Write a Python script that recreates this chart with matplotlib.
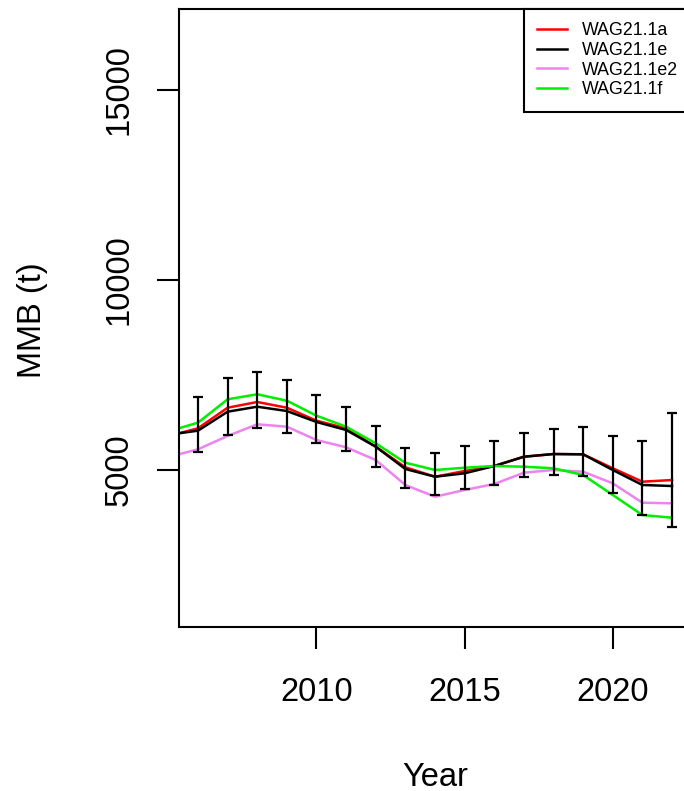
import numpy as np
import matplotlib
matplotlib.use("Agg")
from matplotlib import pyplot as plt

plt.rcParams['font.family'] = ['Liberation Sans', 'DejaVu Sans']

years = np.arange(2005, 2023)

# MMB estimates per model run (t)
wag21_1a = [5880, 6086, 6628, 6779, 6628, 6286, 6086, 5601, 5058, 4810,
            4960, 5092, 5337, 5408, 5400, 5032, 4679, 4723]
wag21_1e = [5917, 6023, 6523, 6655, 6541, 6252, 6041, 5601, 5013, 4810,
            4900, 5092, 5337, 5408, 5400, 4987, 4592, 4565]
wag21_1e2 = [5330, 5532, 5883, 6191, 6128, 5777, 5585, 5250, 4592, 4283,
             4460, 4618, 4916, 4987, 4942, 4636, 4125, 4109]
wag21_1f = [6007, 6233, 6850, 6982, 6813, 6418, 6128, 5690, 5179, 4987,
            5047, 5092, 5074, 5032, 4855, 4328, 3801, 3730]

# interval for WAG21.1e
err_years = np.arange(2006, 2023)
err_lower = [5461, 5901, 6094, 5954, 5706, 5495, 5074, 4520, 4328,
             4478, 4592, 4794, 4855, 4837, 4389, 3801, 3493]
err_upper = [6902, 7419, 7577, 7358, 6971, 6655, 6154, 5567, 5427,
             5619, 5759, 5970, 6067, 6128, 5883, 5759, 6481]

series = [("WAG21.1a", wag21_1a, "red"),
          ("WAG21.1e", wag21_1e, "black"),
          ("WAG21.1e2", wag21_1e2, "violet"),
          ("WAG21.1f", wag21_1f, "#00ee00")]

fig = plt.figure(figsize=(6.84, 7.91), dpi=100)
ax = fig.add_axes([179 / 684, 1 - 626.7 / 791, (691 - 179) / 684, (626.7 - 9) / 791])

for name, vals, col in series:
    ax.plot(years, vals, color=col, lw=1.8, label=name)

e_mid = np.array(wag21_1e[1:])
ax.errorbar(err_years, e_mid,
            yerr=[e_mid - np.array(err_lower), np.array(err_upper) - e_mid],
            fmt='none', ecolor='black', elinewidth=1.6, capsize=3.5, capthick=1.6)

ax.set_xlim(2005.36, 2022.64)
ax.set_ylim(858, 17134)
ax.set_xticks([2010, 2015, 2020])
ax.set_yticks([5000, 10000, 15000])

for sp in ax.spines.values():
    sp.set_linewidth(1.5)

ax.tick_params(axis='both', length=16, width=1.5, labelsize=23.5)
ax.tick_params(axis='x', pad=20)
ax.tick_params(axis='y', pad=16)
for lab in ax.get_yticklabels():
    lab.set_rotation(90)
    lab.set_va('center')
    lab.set_ha('right')

fig.text(435 / 684, 1 - 777 / 791, "Year", ha='center', va='center', fontsize=23.5)
fig.text(32 / 684, 1 - 320 / 791, "MMB (t)", ha='center', va='center',
         rotation=90, fontsize=23.5)

leg = ax.legend(loc='upper right', bbox_to_anchor=(1, 1), borderaxespad=0,
                fontsize=12.8, frameon=True, fancybox=False, framealpha=1,
                edgecolor='black', handlelength=1.7, handletextpad=0.8,
                labelspacing=0.15, borderpad=0.75)
leg.get_frame().set_linewidth(1.5)

fig.savefig("out.png", dpi=100)
